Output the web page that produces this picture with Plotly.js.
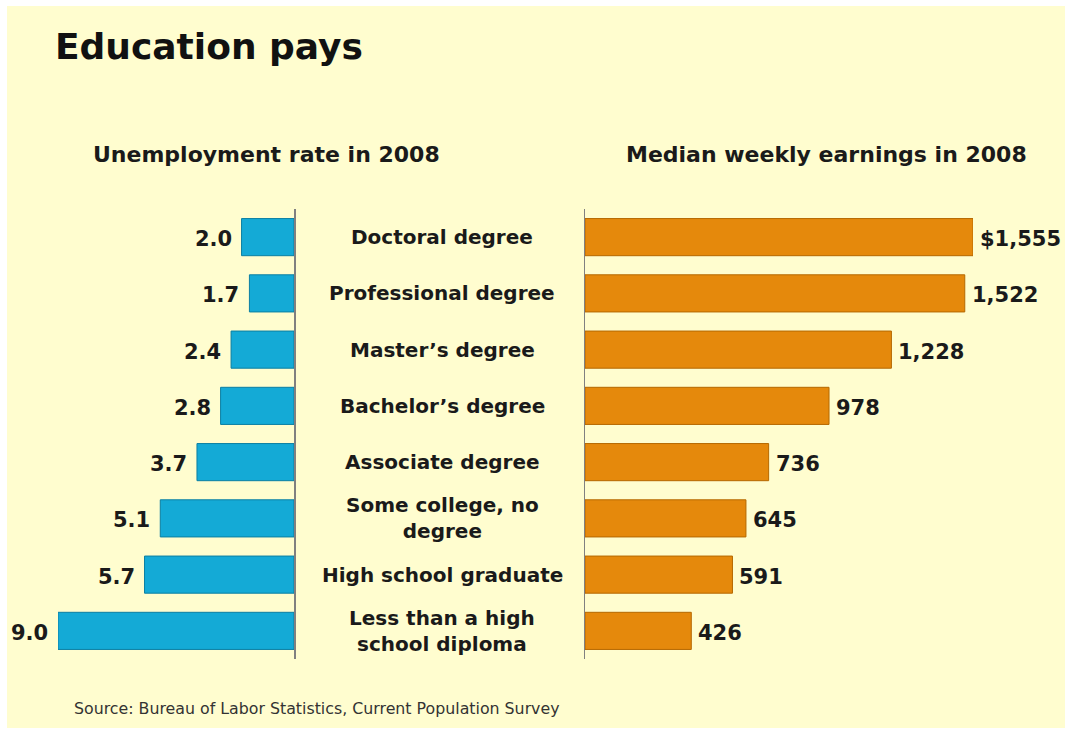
<!DOCTYPE html>
<html>
<head>
<meta charset="utf-8">
<script src="https://cdn.plot.ly/plotly-3.0.1.min.js"></script>
<style>html,body{margin:0;padding:0;background:#fff;}#chart{width:1065px;height:730px;}</style>
</head>
<body>
<div id="chart"></div>
<script>
// Data
const categories = ["Doctoral degree", "Professional degree", "Master\u2019s degree", "Bachelor\u2019s degree",
  "Associate degree", "Some college, no<br>degree", "High school graduate", "Less than a high<br>school diploma"];
const unemploymentRate = [2.0, 1.7, 2.4, 2.8, 3.7, 5.1, 5.7, 9.0];
const weeklyEarnings = [1555, 1522, 1228, 978, 736, 645, 591, 426];
const leftTitle = "Unemployment rate in 2008";
const rightTitle = "Median weekly earnings in 2008";
const chartTitle = "Education pays";
const sourceNote = "Source: Bureau of Labor Statistics, Current Population Survey";

const W = 1065, H = 730;
const px = v => v / W;
const py = v => 1 - v / H;

const earnLabels = weeklyEarnings.map((v, i) => (i === 0 ? "$" : "") + v.toLocaleString("en-US"));
const rateLabels = unemploymentRate.map(v => v.toFixed(1));

const valueFont = {family: "DejaVu Sans", size: 21, color: "#1a1a1a", weight: 700};
const catFont = {family: "DejaVu Sans", size: 20, color: "#1a1a1a", weight: 700};
const subFont = {family: "DejaVu Sans", size: 22, color: "#1a1a1a", weight: 700};

const traces = [
  {type: "bar", orientation: "h", y: categories, x: unemploymentRate, xaxis: "x", yaxis: "y",
   width: 0.66, marker: {color: "#14AAD6", line: {color: "#0B7FA3", width: 1}},
   hoverinfo: "skip", showlegend: false},
  {type: "bar", orientation: "h", y: categories, x: weeklyEarnings, xaxis: "x2", yaxis: "y2",
   width: 0.66, marker: {color: "#E5890C", line: {color: "#B56800", width: 1}},
   hoverinfo: "skip", showlegend: false}
];

const annotations = [];
categories.forEach((c, i) => {
  annotations.push({xref: "paper", yref: "y", x: px(442), y: c, text: c, showarrow: false,
    xanchor: "center", yanchor: "middle", align: "center", font: catFont});
  annotations.push({xref: "x", yref: "y", x: unemploymentRate[i], y: c, text: rateLabels[i], showarrow: false,
    xanchor: "right", yanchor: "middle", xshift: -8, yshift: -2, font: valueFont});
  annotations.push({xref: "x2", yref: "y2", x: weeklyEarnings[i], y: c, text: earnLabels[i], showarrow: false,
    xanchor: "left", yanchor: "middle", xshift: 5, yshift: -2, font: valueFont});
});
annotations.push({xref: "paper", yref: "paper", x: px(266), y: py(155), text: leftTitle, showarrow: false,
  xanchor: "center", yanchor: "middle", font: subFont});
annotations.push({xref: "paper", yref: "paper", x: px(826), y: py(155), text: rightTitle, showarrow: false,
  xanchor: "center", yanchor: "middle", font: subFont});
annotations.push({xref: "paper", yref: "paper", x: px(72), y: py(708), text: sourceNote, showarrow: false,
  xanchor: "left", yanchor: "middle", font: {family: "DejaVu Sans", size: 15.8, color: "#333"}});

const yCommon = {type: "category", categoryarray: categories, categoryorder: "array",
  range: [7.5, -0.5], showticklabels: false, showgrid: false, zeroline: false, ticks: "",
  showline: true, linecolor: "#808080", linewidth: 1.5, domain: [py(659), py(209)], fixedrange: true};

const layout = {
  width: W, height: H,
  margin: {l: 0, r: 0, t: 0, b: 0, pad: 0},
  paper_bgcolor: "#ffffff", plot_bgcolor: "rgba(0,0,0,0)",
  title: {text: chartTitle, x: px(55), xanchor: "left", xref: "paper", y: py(46), yanchor: "middle",
    font: {family: "DejaVu Sans", size: 36, color: "#111", weight: 700}},
  xaxis: {domain: [px(58), px(294)], range: [9, 0], visible: false, fixedrange: true},
  yaxis: Object.assign({}, yCommon, {anchor: "x", side: "right"}),
  xaxis2: {domain: [px(585), px(973)], range: [0, 1555], visible: false, fixedrange: true},
  yaxis2: Object.assign({}, yCommon, {anchor: "x2", side: "left"}),
  bargap: 0.34,
  shapes: [{type: "rect", xref: "paper", yref: "paper", x0: px(7), x1: 1, y0: py(728), y1: py(6),
    fillcolor: "#FFFDCF", line: {width: 0}, layer: "below"}],
  annotations: annotations
};

Plotly.newPlot("chart", traces, layout, {displayModeBar: false, staticPlot: true});
</script>
</body>
</html>
